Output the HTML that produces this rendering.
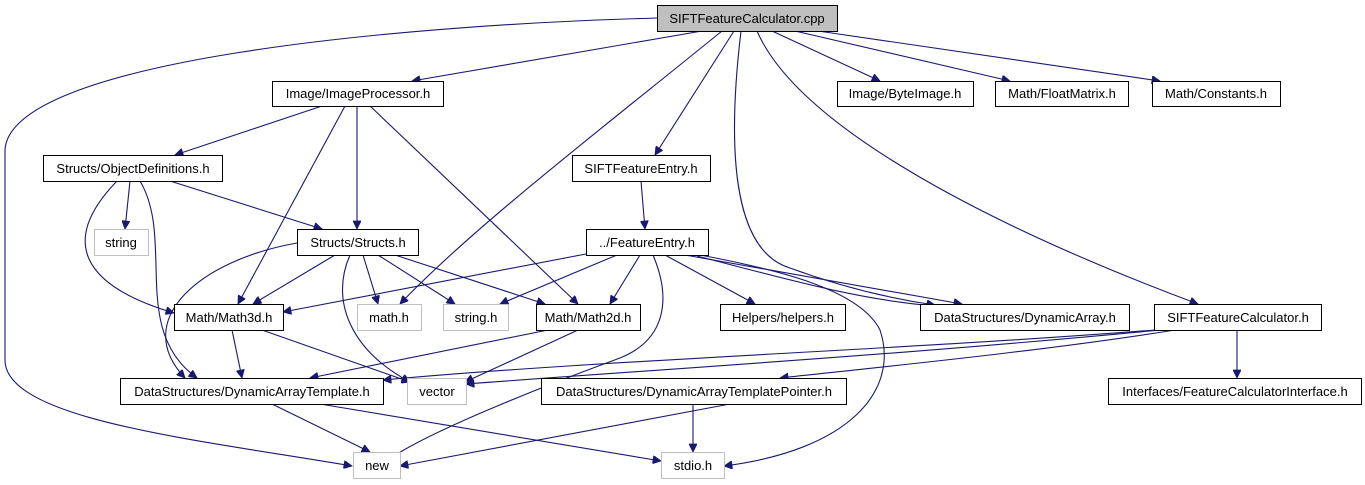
<!DOCTYPE html>
<html><head><meta charset="utf-8"><style>
html,body{margin:0;padding:0;background:#fff}
svg{display:block}
text{font-family:"Liberation Sans",sans-serif;font-size:13px;fill:#000;text-anchor:middle}
.n{fill:#fff;stroke:#000;stroke-width:1}
.g{fill:#fff;stroke:#bfbfbf;stroke-width:1}
.e{fill:none;stroke:#191970;stroke-width:1.1}
</style></head><body>
<svg width="1365" height="485" viewBox="0 0 1365 485" xmlns="http://www.w3.org/2000/svg">
<defs><marker id="a" viewBox="0 0 10 10" refX="10" refY="5" markerWidth="10" markerHeight="8" markerUnits="userSpaceOnUse" orient="auto"><path d="M0,0L10,5L0,10z" fill="#191970" stroke="#191970"/></marker></defs>
<g class="e" marker-end="url(#a)">
<path d="M657,18 C400,25 10,60 5,150 L5,360 C5,420 200,440 352,466"/>
<path d="M702,31 L412,81"/>
<path d="M722,31 C600,130 470,230 400,304"/>
<path d="M734,31 L655,155"/>
<path d="M741,31 C728,140 730,250 790,268 C850,290 900,300 935,305"/>
<path d="M757,31 C800,130 1000,230 1198,304"/>
<path d="M772,31 L880,81"/>
<path d="M795,31 L1010,81"/>
<path d="M818,31 L1160,81"/>
<path d="M322,106 L175,155"/>
<path d="M345,106 L238,304"/>
<path d="M357,106 L357,229"/>
<path d="M370,106 L578,304"/>
<path d="M130,181 L125,229"/>
<path d="M117,181 C60,240 80,285 174,313"/>
<path d="M140,181 C175,240 130,330 197,378"/>
<path d="M170,181 L322,229"/>
<path d="M297,243 C200,260 130,320 185,378"/>
<path d="M335,255 L253,304"/>
<path d="M350,255 C330,300 350,350 410,382"/>
<path d="M363,255 L378,304"/>
<path d="M378,255 L455,304"/>
<path d="M395,255 L545,304"/>
<path d="M641,181 L645,229"/>
<path d="M586,254 L283,312"/>
<path d="M617,255 L500,304"/>
<path d="M640,255 L610,304"/>
<path d="M653,255 C672,300 665,340 620,358 C560,380 430,430 388,460"/>
<path d="M665,255 L755,304"/>
<path d="M685,255 L962,304"/>
<path d="M700,255 C780,270 860,290 880,330 C900,390 850,450 724,466"/>
<path d="M697,256 C790,280 860,300 935,306"/>
<path d="M232,330 L242,378"/>
<path d="M262,330 L410,382"/>
<path d="M548,330 L310,378"/>
<path d="M578,330 L465,382"/>
<path d="M1155,330 C900,350 600,360 383,380"/>
<path d="M1160,330 C900,355 650,370 466,384"/>
<path d="M1175,330 C1050,350 900,365 780,378"/>
<path d="M1237,330 L1237,378"/>
<path d="M272,404 L370,452"/>
<path d="M320,404 L661,461"/>
<path d="M730,404 L400,466"/>
<path d="M693,404 L693,452"/>
</g>
<rect x="657.5" y="5.5" width="180" height="26" fill="#bfbfbf" stroke="#000"/><text x="747" y="23">SIFTFeatureCalculator.cpp</text>
<rect class="n" x="272.5" y="81.5" width="171" height="25"/><text x="358" y="98">Image/ImageProcessor.h</text>
<rect class="n" x="837.5" y="81.5" width="136" height="25"/><text x="905" y="98">Image/ByteImage.h</text>
<rect class="n" x="995.5" y="81.5" width="133" height="25"/><text x="1062" y="98">Math/FloatMatrix.h</text>
<rect class="n" x="1152.5" y="81.5" width="128" height="25"/><text x="1216" y="98">Math/Constants.h</text>
<rect class="n" x="43.5" y="155.5" width="179" height="26"/><text x="133" y="173">Structs/ObjectDefinitions.h</text>
<rect class="n" x="572.5" y="155.5" width="138" height="26"/><text x="641" y="173">SIFTFeatureEntry.h</text>
<rect class="g" x="94.5" y="229.5" width="54" height="26"/><text x="121" y="247">string</text>
<rect class="n" x="297.5" y="229.5" width="121" height="26"/><text x="358" y="247">Structs/Structs.h</text>
<rect class="n" x="586.5" y="229.5" width="122" height="26"/><text x="647" y="247">../FeatureEntry.h</text>
<rect class="n" x="174.5" y="304.5" width="109" height="26"/><text x="229" y="322">Math/Math3d.h</text>
<rect class="g" x="357.5" y="304.5" width="64" height="26"/><text x="389" y="322">math.h</text>
<rect class="g" x="443.5" y="304.5" width="65" height="26"/><text x="476" y="322">string.h</text>
<rect class="n" x="536.5" y="304.5" width="104" height="26"/><text x="588" y="322">Math/Math2d.h</text>
<rect class="n" x="720.5" y="304.5" width="125" height="26"/><text x="783" y="322">Helpers/helpers.h</text>
<rect class="n" x="920.5" y="304.5" width="209" height="26"/><text x="1025" y="322">DataStructures/DynamicArray.h</text>
<rect class="n" x="1154.5" y="304.5" width="167" height="26"/><text x="1238" y="322">SIFTFeatureCalculator.h</text>
<rect class="n" x="120.5" y="378.5" width="263" height="26"/><text x="252" y="396">DataStructures/DynamicArrayTemplate.h</text>
<rect class="g" x="407.5" y="378.5" width="59" height="26"/><text x="437" y="396">vector</text>
<rect class="n" x="541.5" y="378.5" width="305" height="26"/><text x="694" y="396">DataStructures/DynamicArrayTemplatePointer.h</text>
<rect class="n" x="1108.5" y="378.5" width="253" height="26"/><text x="1235" y="396">Interfaces/FeatureCalculatorInterface.h</text>
<rect class="g" x="353.5" y="452.5" width="47" height="26"/><text x="377" y="470">new</text>
<rect class="g" x="661.5" y="452.5" width="63" height="26"/><text x="693" y="470">stdio.h</text>
</svg>
</body></html>
